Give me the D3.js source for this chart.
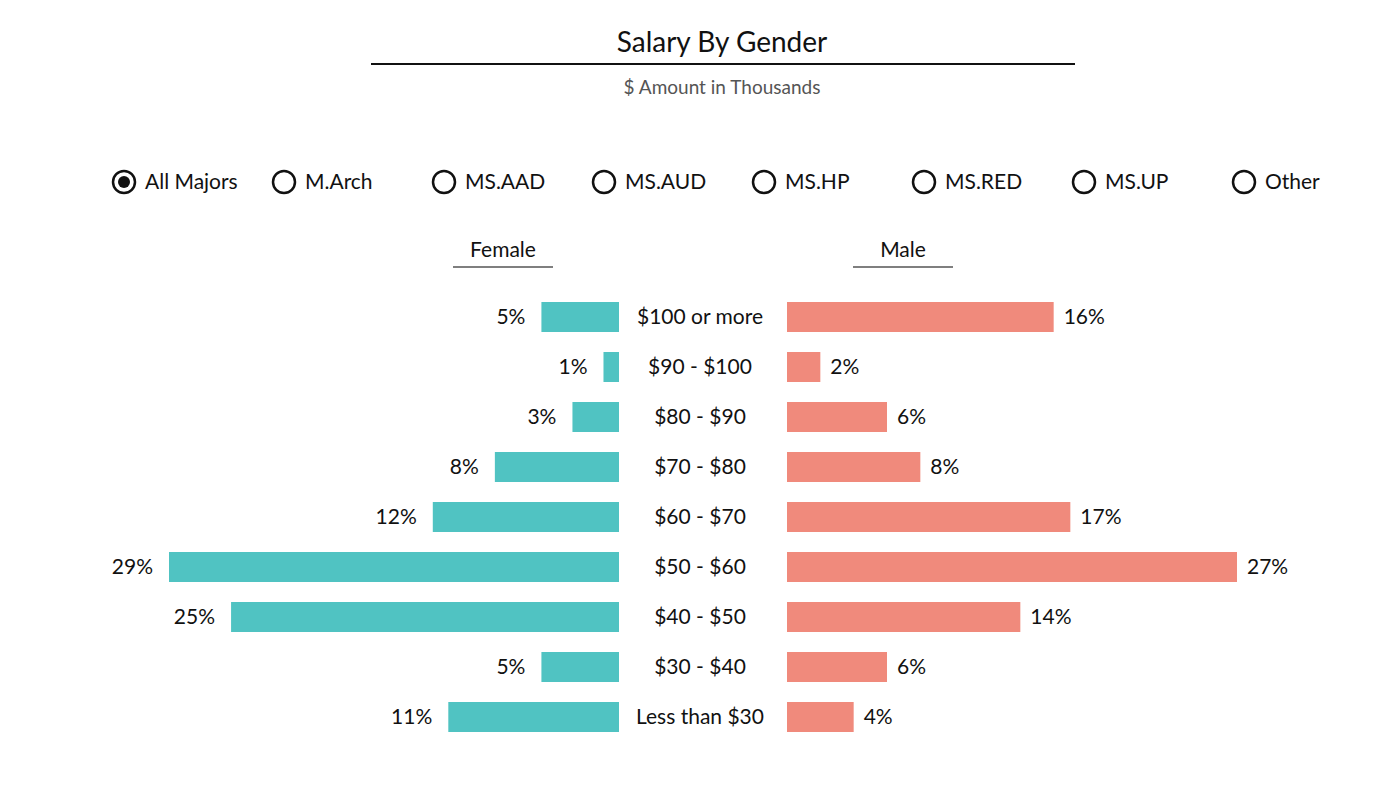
<!DOCTYPE html>
<html>
<head>
<meta charset="utf-8">
<script src="https://cdn.jsdelivr.net/npm/d3@7"></script>
<style>
  body { margin: 0; background: #fff; font-family: Lato, "Open Sans", sans-serif; }
</style>
</head>
<body>
<div id="chart"></div>
<script>
const categories = ["$100 or more", "$90 - $100", "$80 - $90", "$70 - $80", "$60 - $70",
  "$50 - $60", "$40 - $50", "$30 - $40", "Less than $30"];
const female = [5, 1, 3, 8, 12, 29, 25, 5, 11];
const male = [16, 2, 6, 8, 17, 27, 14, 6, 4];
const majors = ["All Majors", "M.Arch", "MS.AAD", "MS.AUD", "MS.HP", "MS.RED", "MS.UP", "Other"];

const W = 1395, H = 785;
const svg = d3.select("#chart").append("svg").attr("width", W).attr("height", H);

// Title
svg.append("text").attr("x", 722).attr("y", 52).attr("text-anchor", "middle")
  .style("font-size", "28px").attr("fill", "#111").text("Salary By Gender");
svg.append("line").attr("x1", 371).attr("x2", 1075).attr("y1", 64).attr("y2", 64)
  .attr("stroke", "#111").attr("stroke-width", 2);
svg.append("text").attr("x", 722).attr("y", 94).attr("text-anchor", "middle")
  .style("font-size", "19px").attr("fill", "#555").text("$ Amount in Thousands");

// Radio buttons
const radios = svg.append("g").selectAll("g").data(majors).join("g")
  .attr("transform", (d, i) => `translate(${124 + i * 160},182)`);
radios.append("circle").attr("r", 11).attr("fill", "#fff").attr("stroke", "#111").attr("stroke-width", 2.5);
radios.filter((d, i) => i === 0).append("circle").attr("r", 6).attr("fill", "#111");
radios.append("text").attr("x", 21).attr("dy", "0.35em").style("font-size", "21px").attr("fill", "#111").text(d => d);

// Headers
[["Female", 503], ["Male", 903]].forEach(([t, cx]) => {
  svg.append("text").attr("x", cx).attr("y", 257).attr("text-anchor", "middle")
    .style("font-size", "21px").attr("fill", "#111").text(t);
  svg.append("line").attr("x1", cx - 50).attr("x2", cx + 50).attr("y1", 267).attr("y2", 267)
    .attr("stroke", "#555").attr("stroke-width", 1.5);
});

// Scales
const y = d3.scaleBand().domain(categories).range([292, 742]).paddingInner(0.4).paddingOuter(0.2);
const xf = d3.scaleLinear().domain([0, d3.max(female)]).range([0, 450]);
const xm = d3.scaleLinear().domain([0, d3.max(male)]).range([0, 450]);
const fEnd = 619, mStart = 787;

const rows = svg.append("g").selectAll("g").data(categories).join("g");

rows.append("rect")
  .attr("x", (d, i) => fEnd - xf(female[i])).attr("y", d => y(d))
  .attr("width", (d, i) => xf(female[i])).attr("height", y.bandwidth())
  .attr("fill", "#50c3c2");
rows.append("text")
  .attr("x", (d, i) => fEnd - xf(female[i]) - 16).attr("y", d => y(d) + y.bandwidth() / 2)
  .attr("dy", "0.35em").attr("text-anchor", "end").style("font-size", "21px").attr("fill", "#111")
  .text((d, i) => female[i] + "%");

rows.append("rect")
  .attr("x", mStart).attr("y", d => y(d))
  .attr("width", (d, i) => xm(male[i])).attr("height", y.bandwidth())
  .attr("fill", "#f08a7c");
rows.append("text")
  .attr("x", (d, i) => mStart + xm(male[i]) + 10).attr("y", d => y(d) + y.bandwidth() / 2)
  .attr("dy", "0.35em").style("font-size", "21px").attr("fill", "#111")
  .text((d, i) => male[i] + "%");

rows.append("text")
  .attr("x", 700).attr("y", d => y(d) + y.bandwidth() / 2)
  .attr("dy", "0.35em").attr("text-anchor", "middle").style("font-size", "21px").attr("fill", "#111")
  .text(d => d);
</script>
</body>
</html>
